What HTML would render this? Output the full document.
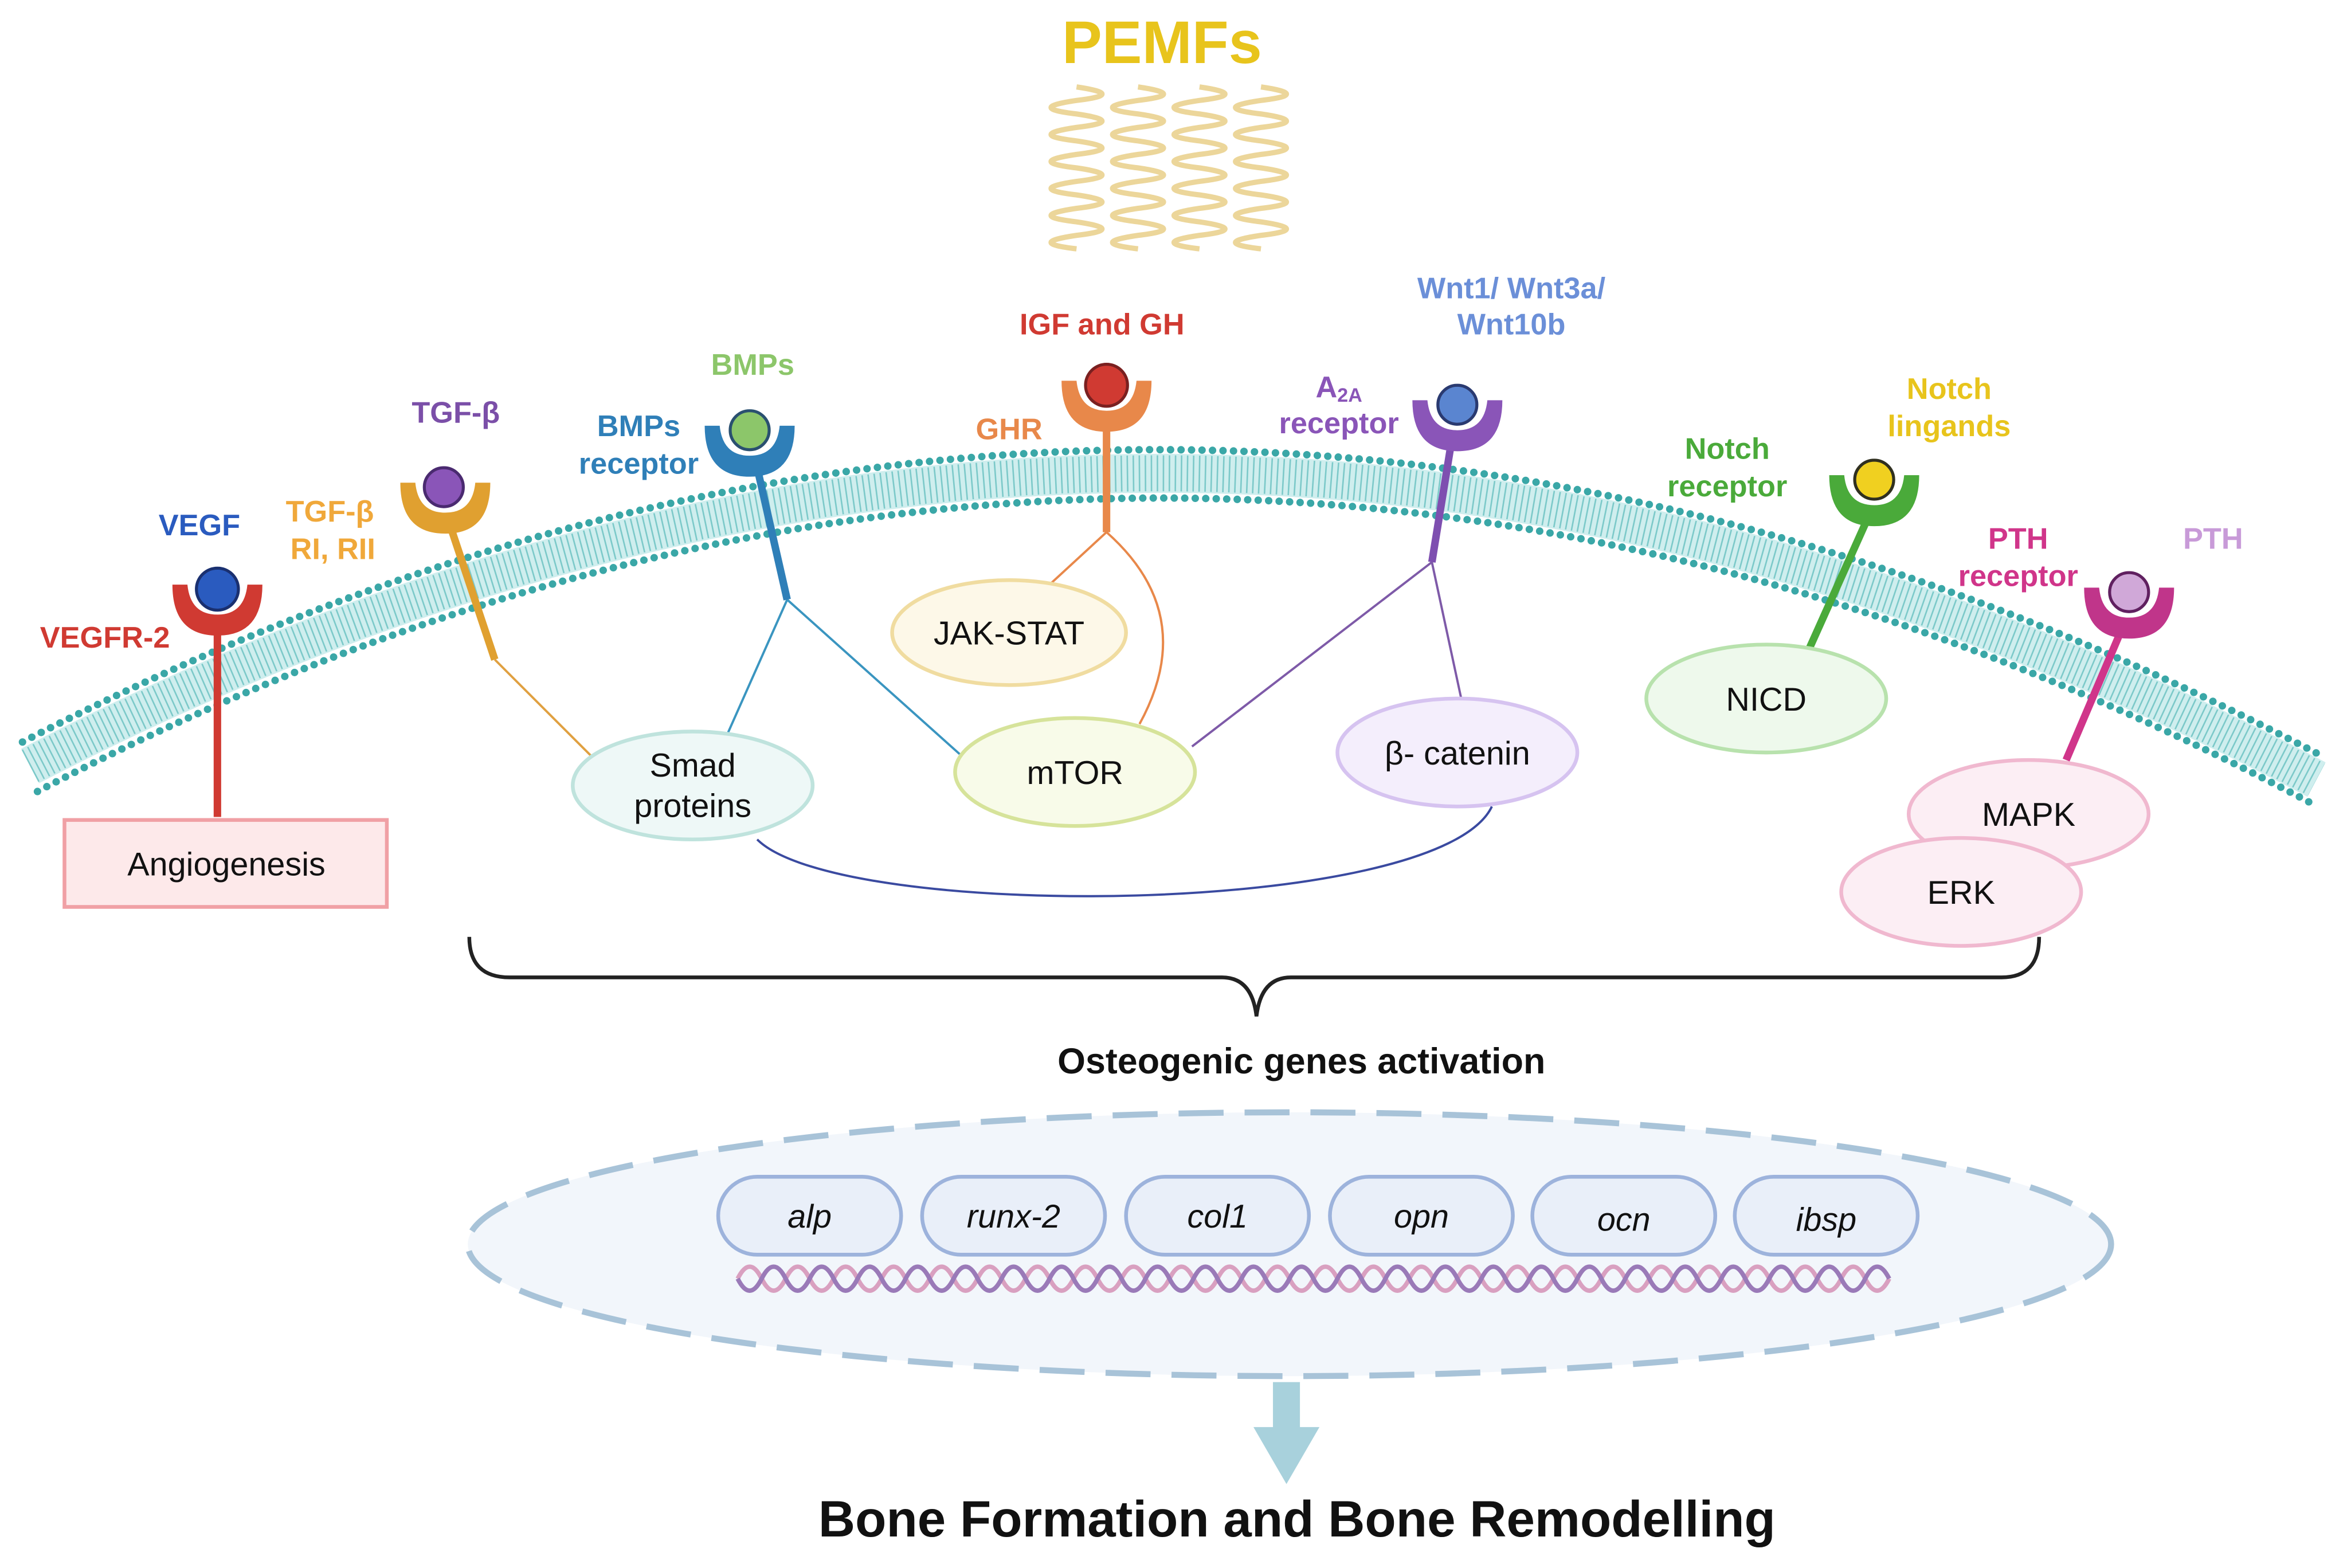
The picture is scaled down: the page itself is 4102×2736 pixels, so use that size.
<!DOCTYPE html>
<html><head><meta charset="utf-8"><style>
html,body{margin:0;padding:0;background:#fff;}
svg{display:block;}
text{font-family:"Liberation Sans",sans-serif;}
</style></head><body>
<svg width="4102" height="2736" viewBox="0 0 1568 1046" preserveAspectRatio="none" xmlns="http://www.w3.org/2000/svg">
<defs>
<g id="cup"><path d="M-30,-8 Q-30,26 0,26 Q30,26 30,-8 L20,-8 Q18,12 0,12 Q-18,12 -20,-8 Z"/></g>
</defs>
<!-- PEMFs -->
<text x="775" y="42" font-size="40" font-weight="bold" fill="#e8c41c" text-anchor="middle">PEMFs</text>
<g fill="none" stroke="#ecd69a" stroke-width="3.5">
<path id="w1" d="M718,58 q34,5 0,9 q-34,5 0,9 q34,5 0,9 q-34,5 0,9 q34,5 0,9 q-34,5 0,9 q34,5 0,9 q-34,5 0,9 q34,5 0,9 q-34,5 0,9 q34,5 0,9 q-34,5 0,9"/>
<use href="#w1" x="41"/><use href="#w1" x="82"/><use href="#w1" x="123"/>
</g>
<!-- membrane -->
<g fill="none">
<path d="M20,511 Q780,116 1545,520" stroke="#cfeeee" stroke-width="26"/>
<path d="M20,511 Q780,116 1545,520" stroke="#7cc9c9" stroke-width="24" stroke-dasharray="1 3"/>
<path d="M15,495 Q780,100 1550,505" stroke="#3aa7a7" stroke-width="5" stroke-linecap="round" stroke-dasharray="0 7"/>
<path d="M25,528 Q780,133 1540,535" stroke="#3aa7a7" stroke-width="5" stroke-linecap="round" stroke-dasharray="0 7"/>
</g>
<!-- connectors -->
<g fill="none" stroke-width="1.5">
<path d="M330,440 L395,505" stroke="#e0a040"/>
<path d="M525,400 L485,490 M525,400 L640,503" stroke="#3a95c0"/>
<path d="M738,355 L700,390 M738,355 Q800,410 760,483" stroke="#e8884a"/>
<path d="M955,375 L795,498 M955,375 L975,468" stroke="#7e5aa8"/>
<path d="M505,560 C560,615 960,612 995,538" stroke="#3a4aa0"/>
</g>
<!-- stems -->
<g stroke-width="5" fill="none">
<path d="M145,420 L145,545" stroke="#d03a32"/>
<path d="M300,350 L330,440" stroke="#e0a030"/>
<path d="M505,312 L525,400" stroke="#2f7fb8"/>
<path d="M738,282 L738,355" stroke="#e8884a"/>
<path d="M968,295 L955,375" stroke="#7e4fb0"/>
<path d="M1246,345 L1207,432" stroke="#4aaa3a"/>
<path d="M1415,420 L1378,507" stroke="#d0358a"/>
</g>
<!-- receptors -->
<use href="#cup" x="145" y="398" fill="#d03a32"/><circle cx="145" cy="393" r="14" fill="#2a5bbf" stroke="#1a3070" stroke-width="2"/>
<use href="#cup" x="297" y="330" fill="#e0a030"/><circle cx="296" cy="325" r="13" fill="#8a55b8" stroke="#4a2a70" stroke-width="2"/>
<use href="#cup" x="500" y="292" fill="#2f7fb8"/><circle cx="500" cy="287" r="13" fill="#8cc66a" stroke="#2a5070" stroke-width="2"/>
<use href="#cup" x="738" y="262" fill="#e8884a"/><circle cx="738" cy="257" r="14" fill="#d03a32" stroke="#7a2020" stroke-width="2"/>
<use href="#cup" x="972" y="275" fill="#8a55b8"/><circle cx="972" cy="270" r="13" fill="#5a85d0" stroke="#2a3a70" stroke-width="2"/>
<use href="#cup" x="1250" y="325" fill="#4aaa3a"/><circle cx="1250" cy="320" r="13" fill="#f0d020" stroke="#303020" stroke-width="2"/>
<use href="#cup" x="1420" y="400" fill="#c0358a"/><circle cx="1420" cy="395" r="13" fill="#d0a8d8" stroke="#602060" stroke-width="2"/>
<!-- boxes/ellipses -->
<rect x="43" y="547" width="215" height="58" fill="#fde9ea" stroke="#f0a0a5" stroke-width="2.5"/>
<text x="151" y="584" font-size="22" text-anchor="middle" fill="#111">Angiogenesis</text>
<g stroke-width="2.5">
<ellipse cx="673" cy="422" rx="78" ry="35" fill="#fdf8e8" stroke="#f0dca0"/>
<ellipse cx="462" cy="524" rx="80" ry="36" fill="#eef8f7" stroke="#bfe3dd"/>
<ellipse cx="717" cy="515" rx="80" ry="36" fill="#f8fbe9" stroke="#d6e39a"/>
<ellipse cx="972" cy="502" rx="80" ry="36" fill="#f4eefc" stroke="#d6c3f0"/>
<ellipse cx="1178" cy="466" rx="80" ry="36" fill="#eef9ec" stroke="#b8e2ad"/>
<ellipse cx="1353" cy="543" rx="80" ry="36" fill="#fceef4" stroke="#f0b8cf"/>
<ellipse cx="1308" cy="595" rx="80" ry="36" fill="#fceef4" stroke="#f0b8cf"/>
</g>
<g font-size="22" text-anchor="middle" fill="#111">
<text x="673" y="430">JAK-STAT</text>
<text x="462" y="518">Smad</text><text x="462" y="545">proteins</text>
<text x="717" y="523">mTOR</text>
<text x="972" y="510">β- catenin</text>
<text x="1178" y="474">NICD</text>
<text x="1353" y="551">MAPK</text>
<text x="1308" y="603">ERK</text>
</g>
<!-- labels -->
<g font-size="20" font-weight="bold" text-anchor="middle">
<text x="133" y="357" fill="#2a5bbf">VEGF</text>
<text x="70" y="432" fill="#d03a32">VEGFR-2</text>
<text x="304" y="282" fill="#7b4fa8">TGF-β</text>
<text x="220" y="348" fill="#f0a83a">TGF-β</text><text x="222" y="373" fill="#f0a83a">RI, RII</text>
<text x="502" y="250" fill="#8cc66a">BMPs</text>
<text x="426" y="291" fill="#2f7fb8">BMPs</text><text x="426" y="316" fill="#2f7fb8">receptor</text>
<text x="735" y="223" fill="#d03a32">IGF and GH</text>
<text x="673" y="293" fill="#e8884a">GHR</text>
<text x="1008" y="199" fill="#6b8fd8">Wnt1/ Wnt3a/</text><text x="1008" y="223" fill="#6b8fd8">Wnt10b</text>
<text x="893" y="265" fill="#8a55b8">A<tspan font-size="13" dy="3">2A</tspan></text><text x="893" y="289" fill="#8a55b8">receptor</text>
<text x="1152" y="306" fill="#4aaa3a">Notch</text><text x="1152" y="331" fill="#4aaa3a">receptor</text>
<text x="1300" y="266" fill="#e8c41c">Notch</text><text x="1300" y="291" fill="#e8c41c">lingands</text>
<text x="1346" y="366" fill="#d0358a">PTH</text><text x="1346" y="391" fill="#d0358a">receptor</text>
<text x="1476" y="366" fill="#c89ad8">PTH</text>
</g>
<!-- brace -->
<path d="M313,625 Q313,652 340,652 L815,652 Q835,652 838,678 Q841,652 861,652 L1335,652 Q1360,652 1360,625" fill="none" stroke="#222" stroke-width="2.5"/>
<text x="868" y="716" font-size="24" font-weight="bold" text-anchor="middle" fill="#111">Osteogenic genes activation</text>
<!-- nucleus -->
<ellipse cx="860" cy="830" rx="548" ry="88" fill="#f2f6fb" stroke="#a8c3d8" stroke-width="4" stroke-dasharray="30 14"/>
<g fill="none" stroke-width="3">
<path d="M492,853 q8,-16 16,0 t16,0 t16,0 t16,0 t16,0 t16,0 t16,0 t16,0 t16,0 t16,0 t16,0 t16,0 t16,0 t16,0 t16,0 t16,0 t16,0 t16,0 t16,0 t16,0 t16,0 t16,0 t16,0 t16,0 t16,0 t16,0 t16,0 t16,0 t16,0 t16,0 t16,0 t16,0 t16,0 t16,0 t16,0 t16,0 t16,0 t16,0 t16,0 t16,0 t16,0 t16,0 t16,0 t16,0 t16,0 t16,0 t16,0 t16,0" stroke="#d9a0c0"/>
<path d="M492,853 q8,16 16,0 t16,0 t16,0 t16,0 t16,0 t16,0 t16,0 t16,0 t16,0 t16,0 t16,0 t16,0 t16,0 t16,0 t16,0 t16,0 t16,0 t16,0 t16,0 t16,0 t16,0 t16,0 t16,0 t16,0 t16,0 t16,0 t16,0 t16,0 t16,0 t16,0 t16,0 t16,0 t16,0 t16,0 t16,0 t16,0 t16,0 t16,0 t16,0 t16,0 t16,0 t16,0 t16,0 t16,0 t16,0 t16,0 t16,0 t16,0" stroke="#9a7ab8"/>
</g>
<g fill="#e9eff9" stroke="#9db3dc" stroke-width="2.5">
<rect x="479" y="785" width="122" height="52" rx="26"/>
<rect x="615" y="785" width="122" height="52" rx="26"/>
<rect x="751" y="785" width="122" height="52" rx="26"/>
<rect x="887" y="785" width="122" height="52" rx="26"/>
<rect x="1022" y="785" width="122" height="52" rx="26"/>
<rect x="1157" y="785" width="122" height="52" rx="26"/>
</g>
<g font-size="22" font-style="italic" text-anchor="middle" fill="#111">
<text x="540" y="819">alp</text><text x="676" y="819">runx-2</text><text x="812" y="819">col1</text>
<text x="948" y="819">opn</text><text x="1083" y="821">ocn</text><text x="1218" y="821">ibsp</text>
</g>
<!-- arrow -->
<path d="M849,922 L867,922 L867,952 L880,952 L858,990 L836,952 L849,952 Z" fill="#a8d1dc"/>
<text x="865" y="1025" font-size="34" font-weight="bold" text-anchor="middle" fill="#111">Bone Formation and Bone Remodelling</text>
</svg>
</body></html>
